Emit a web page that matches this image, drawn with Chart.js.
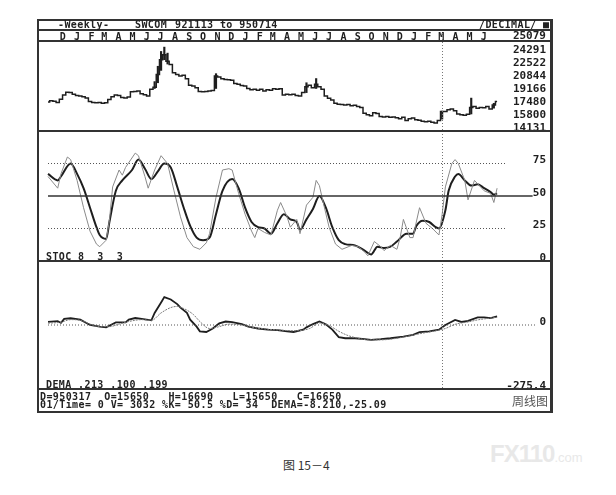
<!DOCTYPE html>
<html>
<head>
<meta charset="utf-8">
<script src="https://cdn.jsdelivr.net/npm/chart.js@4.4.0/dist/chart.umd.min.js"></script>
<style>
    body { margin: 0; background: #fff; width: 616px; height: 495px; position: relative; overflow: hidden; }
    canvas { position: absolute; }
    .hl { position: absolute; left: 37px; width: 516px; height: 2px; background: #333; }
    .vl { position: absolute; top: 19px; height: 394px; background: #333; }
    .mono { position: absolute; font: bold 10px 'DejaVu Sans Mono', monospace; letter-spacing: 0.4px; color: #222; white-space: pre; line-height: 10px; }
    .cjk { position: absolute; font-family: 'Noto Sans CJK SC', sans-serif; white-space: pre; }
</style>
</head>
<body>
<canvas id="priceChart" width="514" height="104" style="left:38px;top:30px;width:514px;height:104px"></canvas>
<canvas id="stocChart" width="514" height="130" style="left:38px;top:131px;width:514px;height:130px"></canvas>
<canvas id="demaChart" width="514" height="128" style="left:38px;top:261px;width:514px;height:128px"></canvas>

<!-- frame -->
<div class="hl" style="top:19px"></div>
<div class="hl" style="top:29px"></div>
<div class="hl" style="top:40px"></div>
<div class="hl" style="top:130px"></div>
<div class="hl" style="top:260px"></div>
<div class="hl" style="top:388px"></div>
<div class="hl" style="top:411px"></div>
<div class="vl" style="left:37px;width:2px"></div>
<div class="vl" style="left:550px;width:3px"></div>

<!-- header + panel texts -->
<div class="mono" style="left:58px;top:20px">-Weekly-</div>
<div class="mono" style="left:135px;top:20px">SWCOM</div>
<div class="mono" style="left:175px;top:20px">921113 to 950714</div>
<div class="mono" style="left:479px;top:20px">/DECIMAL/</div>
<div class="mono" style="left:543px;top:20px">■</div>
<div class="mono" id="maxLabel" style="left:486px;width:60px;text-align:right;top:31px;font-size:11px;letter-spacing:0"></div>
<div class="mono" style="left:46px;top:252px">STOC 8  3  3</div>
<div class="mono" style="left:46px;top:380px">DEMA .213 .100 .199</div>
<div class="mono" style="left:40px;top:392px">D=950317  O=15650   H=16690   L=15650   C=16650</div>
<div class="mono" style="left:40px;top:400px">01/Time= 0 V= 3032 %K= 50.5 %D= 34  DEMA=-8.210,-25.09</div>
<div class="cjk" style="left:512px;top:392px;font-size:12px;color:#555">周线图</div>
<div class="cjk" style="left:283px;top:456px;font-size:12px;color:#333">图 15－4</div>
<div style="position:absolute;left:490px;top:440px;font:bold 24px 'Liberation Sans',sans-serif;color:#e8e8e8;letter-spacing:-1px">FX110<span style="font-size:13px;font-weight:normal;letter-spacing:0">.com</span></div>

<script>
// weekly bars from 921113 (week 0) to 950714 (week 139)
const closes = [
    17880, 18050, 17990, 17830, 18260, 18800, 19180, 19130, 18910, 18750,
    18690, 18580, 18420, 17940, 17830, 17780, 17830, 17720, 17780, 18210,
    18580, 18800, 18750, 18480, 18420, 18530, 19230, 19280, 19340, 18960,
    18850, 18690, 19550, 19820, 21490, 23430, 24080, 23220, 22790, 21710,
    21490, 21280, 21380, 20950, 20090, 19980, 19770, 19280, 19230, 19280,
    19340, 19390, 21280, 21170, 20950, 20850, 20790, 20740, 20310, 20200,
    20040, 19980, 19660, 19500, 19550, 19440, 19550, 19340, 19500, 19440,
    19610, 19550, 19610, 18800, 18910, 18850, 18910, 18750, 18690, 19120,
    19880, 20090, 19770, 20200, 19880, 19550, 18690, 18370, 18150, 17720,
    17610, 17560, 17510, 17560, 17400, 17450, 17290, 17180, 16430, 16210,
    16100, 16480, 16370, 15990, 15940, 15990, 15890, 15940, 15840, 15680,
    15890, 15460, 15680, 15780, 15570, 15510, 15360, 15300, 15360, 15250,
    15150, 15450, 16650, 16640, 16860, 16970, 16750, 16320, 16210, 16160,
    16270, 17180, 17290, 17070, 17180, 17130, 17290, 16970, 17510, 17940
];
// weeks with a visible high-low range
const spikeWeeks = [33, 34, 35, 36, 37, 52, 80, 83, 122, 131, 138];
const spikeHighs = [20560, 22570, 24510, 25079, 24290, 21600, 20410, 20960, 16690, 18400, 17720];
const spikeLows = [19660, 20410, 22030, 23430, 22860, 19660, 19120, 19660, 15650, 16320, 17080];

const priceTicks = [24291, 22522, 20844, 19166, 17480, 15800, 14131];
const priceMax = 25079;

const monthLetters = ['D', 'J', 'F', 'M', 'A', 'M', 'J', 'J', 'A', 'S', 'O', 'N',
    'D', 'J', 'F', 'M', 'A', 'M', 'J', 'J', 'A', 'S', 'O', 'N',
    'D', 'J', 'F', 'M', 'A', 'M', 'J'];

// STOC 8 3 3
const kWeeks = [0, 3, 4, 6, 7, 9, 11, 13, 15, 16, 18, 19, 20, 22, 23, 24, 27, 28, 30, 31, 33, 35, 37, 39, 41, 43, 45, 47, 49, 50,
    52, 54, 56, 57, 59, 61, 63, 64, 65, 67, 69, 71, 72, 74, 75, 77, 78, 80, 82, 83, 84, 85, 87, 89, 91, 94, 96, 98, 99, 101,
    103, 104, 106, 108, 109, 110, 112, 113, 114, 115, 117, 119, 121, 122, 123, 125, 126, 127, 129, 130, 132, 135, 137, 138, 139];
const kValues = [65, 56, 67, 80, 78, 62, 41, 23, 13, 11, 16, 31, 57, 70, 66, 72, 83, 81, 65, 56, 70, 81, 75, 54, 34, 18, 11, 9, 14, 21,
    49, 70, 71, 70, 52, 36, 23, 18, 25, 22, 20, 39, 45, 34, 26, 32, 21, 43, 49, 62, 58, 47, 26, 13, 9, 12, 11, 7, 4, 15,
    11, 8, 12, 9, 18, 32, 18, 18, 30, 41, 29, 25, 20, 36, 57, 75, 78, 75, 62, 47, 62, 54, 52, 45, 56];
const dWeeks = [0, 3, 4, 7, 9, 11, 13, 15, 16, 18, 19, 21, 23, 26, 28, 30, 32, 34, 36, 38, 40, 42, 44, 46, 48, 50, 52, 54, 57, 59,
    61, 63, 65, 67, 69, 71, 73, 75, 77, 78, 80, 82, 84, 86, 88, 90, 92, 95, 98, 100, 102, 104, 106, 108, 111, 113, 114, 116, 118, 120,
    121, 123, 124, 126, 127, 129, 131, 133, 135, 137, 138, 139];
const dValues = [67, 62, 65, 75, 67, 56, 41, 26, 20, 17, 30, 54, 62, 70, 78, 71, 63, 69, 75, 72, 57, 41, 27, 18, 16, 18, 36, 54, 63, 56,
    41, 30, 26, 25, 21, 29, 36, 32, 30, 24, 32, 40, 50, 41, 26, 16, 13, 12, 8, 5, 11, 10, 11, 15, 21, 21, 27, 31, 30, 26,
    25, 39, 54, 65, 67, 62, 58, 59, 56, 53, 51, 52];
const stocTicks = [75, 50, 25, 0];

// DEMA .213 .100 .199
const demaWeeks = [0, 3, 4, 5, 7, 10, 13, 16, 18, 20, 21, 24, 25, 27, 29, 32, 33, 35, 36, 38, 40, 41, 43, 44, 46, 47, 49, 51, 53, 55,
    57, 60, 62, 65, 68, 71, 74, 76, 79, 80, 82, 84, 86, 88, 90, 92, 95, 98, 100, 103, 106, 110, 113, 115, 118, 121, 123, 126, 128, 130,
    133, 135, 137, 139];
const demaValues = [13, 17, 9, 26, 29, 23, 0, -7, -10, 4, 11, 11, 23, 30, 26, 20, 52, 97, 120, 110, 90, 75, 52, 23, -7, -27, -30, -15, 7, 15,
    12, 4, -7, -15, -20, -22, -27, -30, -20, -10, 4, 15, 3, -20, -52, -57, -57, -61, -64, -61, -57, -50, -42, -31, -27, -20, 0, 22, 13, 18,
    33, 33, 30, 37];
const sigWeeks = [0, 4, 7, 10, 13, 16, 19, 22, 25, 29, 32, 35, 38, 40, 42, 45, 47, 50, 53, 56, 60, 64, 68, 72, 76, 81, 84, 87, 90, 93,
    96, 99, 103, 108, 112, 116, 120, 123, 126, 130, 133, 136, 139];
const sigValues = [8, 12, 23, 20, 4, -7, -7, 4, 15, 23, 20, 52, 75, 80, 71, 45, 15, -15, -7, 4, 0, -12, -18, -22, -25, -15, 9, -2, -27, -46,
    -57, -64, -64, -57, -46, -35, -25, -15, 3, 13, 22, 28, 33];
const demaTicks = [0, -275.4];

const cursorWeek = 122; // 950317

// layout of the week axis (shared by the three panels)
const XMIN = -3.1;
const XMAX = 156;
const INK = '#1e1e1e';
const FONT = { family: "'DejaVu Sans Mono', monospace", size: 11, weight: 'bold' };

document.getElementById('maxLabel').textContent = String(priceMax);

const toPoints = (xs, ys) => xs.map((x, i) => ({ x: x, y: ys[i] }));

// week index of the middle of each month, from the calendar
const startDate = Date.UTC(1992, 10, 13);
const monthWeeks = monthLetters.map((_, k) => (Date.UTC(1992, 11 + k, 15) - startDate) / (7 * 864e5));

const cursorPlugin = {
    id: 'cursor',
    afterDatasetsDraw(chart) {
        const ctx = chart.ctx;
        const x = Math.round(chart.scales.x.getPixelForValue(cursorWeek)) + 0.5;
        ctx.save();
        ctx.strokeStyle = '#777';
        ctx.lineWidth = 1;
        ctx.setLineDash([1, 2]);
        ctx.beginPath();
        ctx.moveTo(x, 0);
        ctx.lineTo(x, chart.chartArea.bottom);
        ctx.stroke();
        ctx.restore();
    },
};

function weekAxis() {
    return { type: 'linear', min: XMIN, max: XMAX, offset: false, display: false };
}

function valueAxis(min, max, ticks) {
    return {
        position: 'right',
        min: min,
        max: max,
        afterBuildTicks: (s) => { s.ticks = ticks.map((v) => ({ value: v })); },
        afterFit: (s) => { s.width = 0; s.paddingTop = 0; s.paddingBottom = 0; },
        ticks: { mirror: true, autoSkip: false, padding: -6, labelOffset: -3, color: INK, font: FONT, callback: (v) => String(v) },
        grid: { display: false },
        border: { display: false },
    };
}

function baseOptions(scales, padding) {
    return {
        responsive: false,
        animation: false,
        layout: { padding: padding || 0 },
        plugins: { legend: { display: false }, tooltip: { enabled: false } },
        scales: scales,
    };
}

function refLine(level, end, color, width, dash) {
    return {
        data: [{ x: 0, y: level }, { x: end, y: level }],
        borderColor: color,
        borderWidth: width,
        borderDash: dash,
        pointRadius: 0,
    };
}

// price panel
new Chart(document.getElementById('priceChart'), {
    type: 'line',
    data: {
        datasets: [
            {
                type: 'line',
                data: closes.map((c, i) => ({ x: i, y: c })),
                borderColor: INK,
                borderWidth: 1.5,
                stepped: 'middle',
                pointRadius: 0,
            },
            {
                type: 'bar',
                data: spikeWeeks.map((w, i) => ({ x: w, y: [spikeLows[i], spikeHighs[i]] })),
                backgroundColor: INK,
                barThickness: 1.5,
            },
        ],
    },
    options: baseOptions({
        x: weekAxis(),
        m: {
            type: 'linear',
            position: 'top',
            min: XMIN,
            max: XMAX,
            offset: false,
            afterBuildTicks: (s) => { s.ticks = monthWeeks.map((v) => ({ value: v })); },
            afterFit: (s) => { s.height = 11; s.paddingLeft = 0; s.paddingRight = 0; },
            ticks: {
                autoSkip: false,
                maxRotation: 0,
                padding: -9,
                color: INK,
                font: { family: FONT.family, size: 10, weight: 'bold', lineHeight: 1 },
                callback: (v, i) => monthLetters[i],
            },
            grid: { display: false },
            border: { display: false },
        },
        y: valueAxis(14090, 25880, priceTicks),
    }, { bottom: 3 }),
    plugins: [cursorPlugin],
});

// stochastic panel
new Chart(document.getElementById('stocChart'), {
    type: 'line',
    data: {
        datasets: [
            refLine(75, 141.5, '#555', 1, [1, 2]),
            refLine(25, 141.5, '#555', 1, [1, 2]),
            refLine(50, 150, '#333', 1.5, []),
            { data: toPoints(kWeeks, kValues), borderColor: '#8a8a8a', borderWidth: 1, pointRadius: 0, tension: 0 },
            { data: toPoints(dWeeks, dValues), borderColor: INK, borderWidth: 2, pointRadius: 0, cubicInterpolationMode: 'monotone' },
        ],
    },
    options: baseOptions({ x: weekAxis(), y: valueAxis(0, 100, stocTicks) }),
    plugins: [cursorPlugin],
});

// DEMA panel
new Chart(document.getElementById('demaChart'), {
    type: 'line',
    data: {
        datasets: [
            refLine(0, 151, '#555', 1, [1, 2]),
            { data: toPoints(sigWeeks, sigValues), borderColor: '#7a7a7a', borderWidth: 1, borderDash: [2, 1], pointRadius: 0, cubicInterpolationMode: 'monotone' },
            { data: toPoints(demaWeeks, demaValues), borderColor: INK, borderWidth: 1.8, pointRadius: 0, tension: 0 },
        ],
    },
    options: baseOptions({ x: weekAxis(), y: valueAxis(-275.4, 275.4, demaTicks) }),
    plugins: [cursorPlugin],
});
</script>
</body>
</html>
